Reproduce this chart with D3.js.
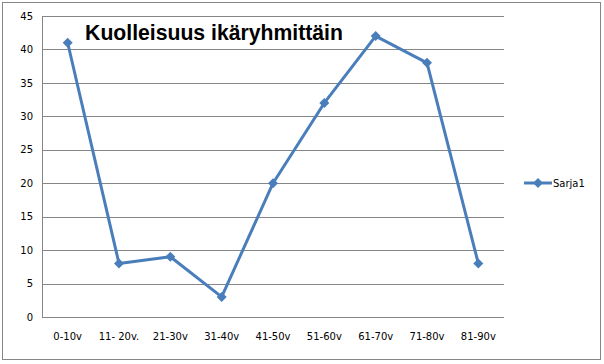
<!DOCTYPE html>
<html><head><meta charset="utf-8">
<script src="https://cdn.jsdelivr.net/npm/d3@7"></script>
<style>body{margin:0;background:#fff}svg{display:block}</style>
</head><body>
<svg id="c" width="604" height="364"></svg>
<script>
const categories = ["0-10v","11- 20v.","21-30v","31-40v","41-50v","51-60v","61-70v","71-80v","81-90v"];
const values = [41, 8, 9, 3, 20, 32, 42, 38, 8];
const yTicks = [0,5,10,15,20,25,30,35,40,45];
const seriesName = "Sarja1";
const title = "Kuolleisuus ikäryhmittäin";

const svg = d3.select("#c");
const color = "#4A7EBB";
const L = 42, R = 504, T = 16, B = 317;

svg.append("rect").attr("x",2.5).attr("y",2.5).attr("width",598).attr("height",357)
  .attr("fill","#fff").attr("stroke","#868686").attr("stroke-width",1);

const x = d3.scaleBand().domain(categories).range([L,R]);
const y = d3.scaleLinear().domain([0,45]).range([B,T]);

svg.append("g").selectAll("line").data(yTicks).join("line")
  .attr("x1",L).attr("x2",R)
  .attr("y1",d=>Math.round(y(d))+0.5).attr("y2",d=>Math.round(y(d))+0.5)
  .attr("stroke","#868686").attr("stroke-width",1);
svg.append("line").attr("x1",L+0.5).attr("x2",L+0.5).attr("y1",T).attr("y2",B+0.5)
  .attr("stroke","#868686");

const yAxis = d3.axisLeft(y).tickValues(yTicks).tickSize(0).tickPadding(9);
const gy = svg.append("g").attr("transform",`translate(${L},0)`).call(yAxis);
gy.select(".domain").remove();
gy.selectAll("text").attr("font-family","DejaVu Sans").attr("font-size",10).attr("fill","#000");

const xAxis = d3.axisBottom(x).tickSize(0).tickPadding(16);
const gx = svg.append("g").attr("transform",`translate(0,${B})`).call(xAxis);
gx.select(".domain").remove();
gx.selectAll("text").attr("font-family","DejaVu Sans").attr("font-size",10).attr("fill","#000");

const cx = d => x(d) + x.bandwidth()/2;
const line = d3.line().x((d,i)=>cx(categories[i])).y(d=>y(d));
svg.append("path").datum(values).attr("d",line).attr("fill","none")
  .attr("stroke",color).attr("stroke-width",3).attr("stroke-linejoin","round");

const dia = "M0,-5L5,0L0,5L-5,0Z";
svg.append("g").selectAll("path").data(values).join("path")
  .attr("d",dia).attr("fill",color)
  .attr("transform",(d,i)=>`translate(${cx(categories[i])},${y(d)})`);

svg.append("text").attr("x",214).attr("y",40).attr("text-anchor","middle")
  .attr("font-family","Liberation Sans, Arial").attr("font-weight","bold").attr("font-size",21.2)
  .text(title);

const lg = svg.append("g").attr("transform","translate(524,183)");
lg.append("line").attr("x1",0).attr("x2",28).attr("y1",0).attr("y2",0).attr("stroke",color).attr("stroke-width",3);
lg.append("path").attr("d",dia).attr("fill",color).attr("transform","translate(14,0)");
lg.append("text").attr("x",29).attr("y",3.5).attr("font-family","DejaVu Sans").attr("font-size",10).text(seriesName);
</script>
</body></html>
